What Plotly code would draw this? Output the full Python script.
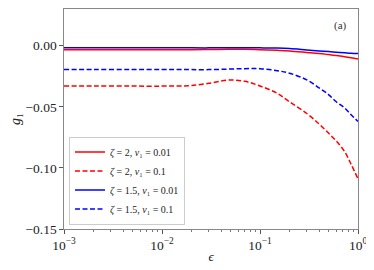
import plotly.graph_objects as go

eps = [0.001, 0.002, 0.005, 0.01, 0.015, 0.02, 0.03, 0.047, 0.07, 0.1, 0.15, 0.2, 0.3, 0.4, 0.5, 0.6, 0.73, 0.85, 1.0]

red_solid = [-0.0034, -0.0034, -0.0034, -0.0034, -0.0034, -0.0033, -0.0032, -0.0030, -0.0030, -0.0033, -0.0038, -0.0043,
             -0.0055, -0.0064, -0.0073, -0.0081, -0.0090, -0.0099, -0.0110]
red_dash = [-0.0331, -0.0331, -0.0331, -0.0331, -0.0330, -0.0326, -0.0308, -0.0282, -0.0292, -0.0330, -0.0390, -0.0459,
            -0.0555, -0.0640, -0.0715, -0.0780, -0.0867, -0.0970, -0.1090]
blue_solid = [-0.0018, -0.0018, -0.0018, -0.0018, -0.0018, -0.0018, -0.0018, -0.0017, -0.0017, -0.0018, -0.0020, -0.0024,
              -0.0035, -0.0043, -0.0048, -0.0053, -0.0058, -0.0062, -0.0065]
blue_dash = [-0.0196, -0.0196, -0.0196, -0.0196, -0.0196, -0.0196, -0.0196, -0.0192, -0.0188, -0.0188, -0.0205, -0.0225,
             -0.0280, -0.0345, -0.0400, -0.0459, -0.0510, -0.0565, -0.0620]

names = ["<i>ζ</i> = 2, <i>v</i>₁ = 0.01",
         "<i>ζ</i> = 2, <i>v</i>₁ = 0.1",
         "<i>ζ</i> = 1.5, <i>v</i>₁ = 0.01",
         "<i>ζ</i> = 1.5, <i>v</i>₁ = 0.1"]
series = [red_solid, red_dash, blue_solid, blue_dash]
colors = ["#ff0000", "#ff0000", "#0000ff", "#0000ff"]
dashes = ["solid", "5px,2.5px", "solid", "5px,2.5px"]

x_tickvals = [0.001, 0.01, 0.1, 1.0]
x_ticktext = ["10<sup>−3</sup>", "10<sup>−2</sup>", "10<sup>−1</sup>", "10<sup>0</sup>"]
y_tickvals = [0.0, -0.05, -0.10, -0.15]

FONT = '"Liberation Serif", "DejaVu Serif", serif'

fig = go.Figure()
for n, s, c, d in zip(names, series, colors, dashes):
    fig.add_trace(go.Scatter(x=eps, y=s, mode="lines", name=n,
                             line=dict(color=c, dash=d, width=1.5, shape="spline")))

axis_common = dict(showgrid=False, zeroline=False, showline=True, linecolor="#888888", linewidth=1.2,
                   mirror=True, ticks="outside", ticklen=3.5, tickcolor="#555555",
                   tickfont=dict(family=FONT, size=13.5, color="#222"))

fig.update_xaxes(type="log", range=[-3, 0], tickvals=x_tickvals, ticktext=x_ticktext, ticklabeloverflow="allow",
                 title=dict(text="<i>ϵ</i>", font=dict(family=FONT, size=13, color="#222"), standoff=0),
                 minor=dict(ticks="outside", ticklen=2, tickcolor="#777", showgrid=False,
                            tickvals=[m * 10.0 ** e for e in (-3, -2, -1) for m in range(2, 10)]),
                 **axis_common)
fig.update_yaxes(range=[-0.15, 0.03], tickvals=y_tickvals, tickformat=".2f",
                 ticklabelstandoff=0,
                 title=dict(text="<i>g</i>₁", font=dict(family=FONT, size=14, color="#222"), standoff=8),
                 **axis_common)

fig.add_annotation(x=0.939, y=0.927, xref="paper", yref="paper", xanchor="center", yanchor="middle",
                   text="(a)", showarrow=False, font=dict(family=FONT, size=11, color="#333"))

# page body has an 8px default margin, so the figure is shrunk and its margins shifted by 8px
fig.update_layout(
    width=366, height=262,
    margin=dict(l=56, r=16, t=1, b=41),
    plot_bgcolor="white", paper_bgcolor="white",
    legend=dict(x=0.017, y=0.02, xanchor="left", yanchor="bottom",
                bgcolor="rgba(255,255,255,0.85)", bordercolor="#cccccc", borderwidth=1,
                font=dict(family=FONT, size=10, color="#222"), itemwidth=30, tracegroupgap=0),
    showlegend=True,
)

fig.write_html("out.html")
